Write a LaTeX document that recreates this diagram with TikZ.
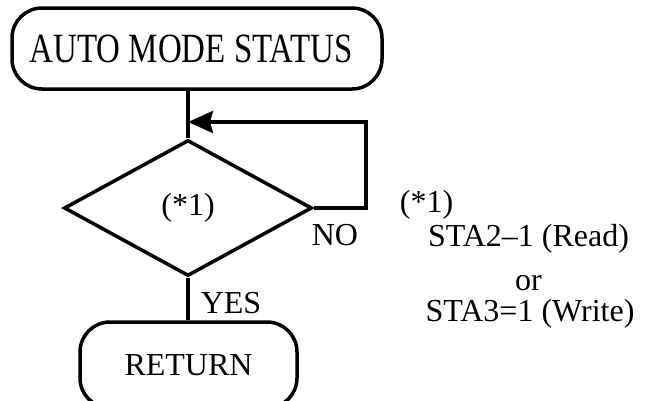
\documentclass[tikz,border=0pt]{standalone}
\usepackage{fontspec}
\setmainfont{Liberation Serif}
\usetikzlibrary{shapes.geometric,arrows.meta}
\begin{document}
\begin{tikzpicture}[x=1pt,y=-1pt,
  line width=3.5pt,
  every node/.style={font=\fontsize{32}{38}\selectfont, inner sep=0pt},
  termbox/.style={draw, rounded corners=30pt, line width=3.5pt},
  decbox/.style={draw, diamond, aspect=1.82, line width=3.5pt},
  lbl/.style={anchor=base}]
\clip (0,0) rectangle (645,400);
\useasboundingbox (0,0) rectangle (645,400);
\node[termbox, minimum width=370pt, minimum height=81pt] (top) at (197,48.5) {\scalebox{1.03}[1.3]{AUTO MODE STATUS}\hspace*{12pt}};
\node[decbox, minimum width=248pt, minimum height=136pt] (d) at (188,208) {(*1)};
\node[termbox, minimum width=217pt, minimum height=86pt] (r) at (188.5,365) {RETURN};
\coordinate (m) at (188,122);
\coordinate (c) at (366,122);
\draw (d.north |- top.south) -- (d.north);
\draw[-{Stealth[length=25pt,width=22pt,inset=3pt]}] (d.east) -- (d.east -| c) -- (c) -- (m);
\draw (d.south) -- (d.south |- r.north);
\node[lbl] (no) at (335,245) {NO};
\node[lbl] (yes) at (231,313) {YES};
\node[lbl] (n1) at (426.5,212) {(*1)};
\node[lbl] (l1) at (528.5,246) {STA2–1 (Read)};
\node[lbl] (l2) at (528.5,290) {or};
\node[lbl] (l3) at (530,321) {STA3=1 (Write)};
\end{tikzpicture}
\end{document}
